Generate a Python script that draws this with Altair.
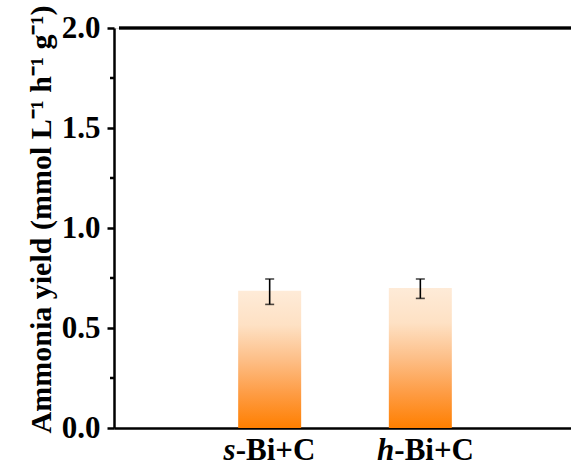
import altair as alt
import pandas as pd

# Samples and their measured ammonia yields (mmol L-1 h-1 g-1)
prefixes = ["s", "h"]            # italic part of each sample name
suffixes = ["-Bi+C", "-Bi+C"]    # upright bold part of each sample name
positions = [1, 2]
yields = [0.686, 0.700]
err_low = [0.618, 0.648]
err_high = [0.745, 0.745]

# Axis ticks
y_major = [0.0, 0.5, 1.0, 1.5, 2.0]
y_minor = [0.25, 0.75, 1.25, 1.75]

df = pd.DataFrame({
    "prefix": prefixes,
    "suffix": suffixes,
    "pos": positions,
    "yield": yields,
    "lo": err_low,
    "hi": err_high,
})
minor_df = pd.DataFrame({"y": y_minor})

FONT = "'Liberation Serif', serif"
W, H = 457, 400

xscale = alt.Scale(domain=[0, 3], range=[0, 462], nice=False, zero=False)
yscale = alt.Scale(domain=[0, 2], nice=False)

xaxis = alt.Axis(labels=False, ticks=False, grid=False, title=None,
                 domainColor="black", domainWidth=2.5)
yaxis = alt.Axis(values=y_major, format=".1f", grid=False,
                 title="Ammonia yield (mmol L\u207b\u00b9 h\u207b\u00b9 g\u207b\u00b9)",
                 titleFont=FONT, titleFontSize=30, titleFontWeight="bold",
                 titleColor="black", titleX=-64, titleY=191,
                 titleAlign="center", titleBaseline="alphabetic", titleAngle=270,
                 labelFont=FONT, labelFontSize=31, labelFontWeight="bold",
                 labelColor="black", labelPadding=7,
                 tickSize=7, tickWidth=2.5, tickColor="black",
                 domainColor="black", domainWidth=2.5)

X = alt.X("pos:Q", scale=xscale, axis=xaxis)

gradient = alt.Gradient(
    gradient="linear", x1=0, x2=0, y1=0, y2=1,
    stops=[
        alt.GradientStop(color="#FEEBD8", offset=0.0),
        alt.GradientStop(color="#FEE1C4", offset=0.25),
        alt.GradientStop(color="#FDBF88", offset=0.5),
        alt.GradientStop(color="#FE9C44", offset=0.75),
        alt.GradientStop(color="#FF7F00", offset=1.0),
    ],
)

base = alt.Chart(df)

bars = base.mark_bar(size=63, color=gradient).encode(
    x=X,
    y=alt.Y("yield:Q", scale=yscale, axis=yaxis),
)

err_rule = base.mark_rule(color="black", strokeWidth=1.6).encode(
    x=X, y=alt.Y("lo:Q", scale=yscale), y2="hi:Q"
)
cap_lo = base.mark_tick(orient="horizontal", size=9, thickness=1.6,
                        color="black").encode(x=X, y=alt.Y("lo:Q", scale=yscale))
cap_hi = base.mark_tick(orient="horizontal", size=9, thickness=1.6,
                        color="black").encode(x=X, y=alt.Y("hi:Q", scale=yscale))

minor_ticks = alt.Chart(minor_df).mark_rule(color="black", strokeWidth=2.5).encode(
    y=alt.Y("y:Q", scale=yscale), x=alt.value(-4), x2=alt.value(0)
)

top_line = alt.Chart(minor_df).mark_rule(color="black", strokeWidth=2.5).encode(
    y=alt.datum(2.0, scale=yscale), x=alt.datum(0), x2=alt.datum(3)
)

# Sample names: italic prefix + bold suffix meeting at an anchor point
label_layers = []
for i, dx in zip(range(len(prefixes)), [-34, -26]):
    sub = base.transform_filter(alt.datum.pos == positions[i])
    label_layers.append(
        sub.mark_text(font=FONT, fontSize=31, fontWeight="bold", fontStyle="italic",
                      align="right", baseline="alphabetic", dx=dx, dy=32,
                      color="black").encode(x=X, y=alt.datum(0), text="prefix:N")
    )
    label_layers.append(
        sub.mark_text(font=FONT, fontSize=31, fontWeight="bold",
                      align="left", baseline="alphabetic", dx=dx, dy=32,
                      color="black").encode(x=X, y=alt.datum(0), text="suffix:N")
    )

chart = alt.layer(
    bars, err_rule, cap_lo, cap_hi, minor_ticks, top_line, *label_layers
).properties(
    width=W, height=H,
    autosize=alt.AutoSizeParams(type="none"),
    padding={"left": 114, "top": 28, "right": 0, "bottom": 40},
).configure_view(stroke=None).configure(background="white")

chart.save("out.html", embed_options={"renderer": "svg", "actions": False})
